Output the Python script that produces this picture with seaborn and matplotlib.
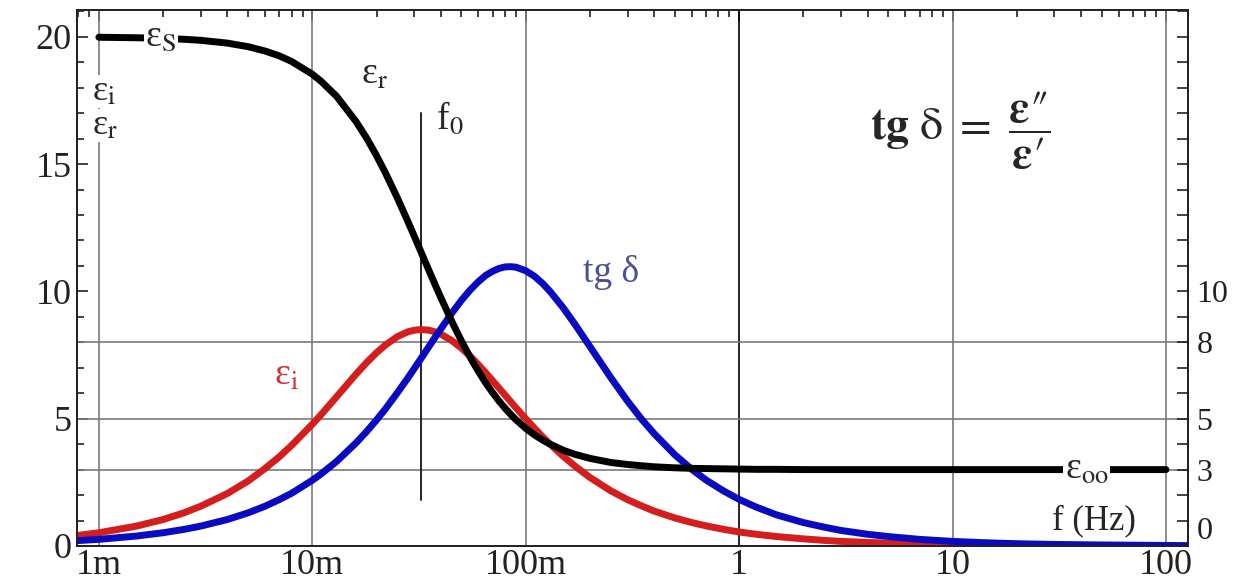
import matplotlib
matplotlib.use("Agg")
import matplotlib.pyplot as plt
import seaborn as sns
from matplotlib.ticker import LogLocator, NullFormatter, FixedLocator, FixedFormatter, MultipleLocator

# frequency (Hz) and the three curves
freq = [0.00079, 0.001, 0.0015, 0.002, 0.0025, 0.003, 0.004, 0.005, 0.006, 0.007, 0.008,
        0.01, 0.011, 0.013, 0.016, 0.018, 0.02, 0.022, 0.025, 0.028, 0.03, 0.032,
        0.035, 0.038, 0.04, 0.045, 0.05, 0.055, 0.06, 0.065, 0.07, 0.075, 0.08,
        0.085, 0.09, 0.1, 0.11, 0.12, 0.13, 0.15, 0.17, 0.2, 0.25, 0.3,
        0.35, 0.4, 0.5, 0.6, 0.7, 0.85, 1, 1.2, 1.5, 2, 2.5,
        3, 4, 5, 7, 10, 15, 20, 30, 50, 100, 127]
eps_r = [19.99, 19.98, 19.96, 19.94, 19.90, 19.86, 19.75, 19.61, 19.44, 19.25, 19.03,
         18.53, 18.25, 17.66, 16.68, 16.01, 15.33, 14.66, 13.68, 12.76, 12.18, 11.63,
         10.87, 10.18, 9.76, 8.83, 8.05, 7.40, 6.86, 6.40, 6.02, 5.69, 5.41,
         5.17, 4.96, 4.62, 4.36, 4.16, 4.00, 3.76, 3.60, 3.44, 3.28, 3.20,
         3.15, 3.11, 3.07, 3.05, 3.04, 3.03, 3.02, 3.01, 3.01, 3.00, 3.00,
         3.00, 3.00, 3.00, 3.00, 3.00, 3.00, 3.00, 3.00, 3.00, 3.00, 3.00]
eps_i = [0.41, 0.52, 0.78, 1.04, 1.30, 1.56, 2.06, 2.55, 3.04, 3.50, 3.95,
         4.78, 5.16, 5.86, 6.74, 7.21, 7.59, 7.89, 8.22, 8.41, 8.47, 8.50,
         8.48, 8.40, 8.32, 8.07, 7.77, 7.45, 7.12, 6.80, 6.49, 6.20, 5.93,
         5.67, 5.43, 5.00, 4.62, 4.29, 4.00, 3.52, 3.14, 2.69, 2.17, 1.82,
         1.57, 1.37, 1.10, 0.92, 0.79, 0.65, 0.55, 0.46, 0.37, 0.28, 0.22,
         0.18, 0.14, 0.11, 0.08, 0.06, 0.04, 0.03, 0.02, 0.01, 0.01, 0.00]
tg_d = [0.21, 0.26, 0.39, 0.52, 0.65, 0.78, 1.04, 1.30, 1.56, 1.82, 2.07,
        2.58, 2.83, 3.32, 4.04, 4.50, 4.95, 5.38, 6.01, 6.59, 6.96, 7.31,
        7.80, 8.25, 8.52, 9.14, 9.65, 10.06, 10.38, 10.63, 10.79, 10.90, 10.96,
        10.97, 10.95, 10.81, 10.59, 10.31, 10.00, 9.35, 8.71, 7.83, 6.62, 5.69,
        4.97, 4.41, 3.58, 3.01, 2.59, 2.15, 1.83, 1.53, 1.22, 0.92, 0.74,
        0.61, 0.46, 0.37, 0.26, 0.18, 0.12, 0.09, 0.06, 0.04, 0.02, 0.01]

x_ticks = [0.001, 0.01, 0.1, 1, 10, 100]
x_labels = ["1m", "10m", "100m", "1", "10", "100"]
y_ticks = [0, 5, 10, 15, 20]
right_ticks = [0, 3, 5, 8, 10]
h_grid = [3, 5, 8]
f0 = 0.0322

sns.set_style("white")
plt.rcParams["font.family"] = ["Liberation Serif", "DejaVu Serif"]
plt.rcParams["mathtext.fontset"] = "stix"

fig = plt.figure(figsize=(12.5, 5.85), dpi=100)
ax = fig.add_axes([0.0616, 0.0667, 0.8888, 0.9162])
ax.set_xscale("log")
ax.set_xlim(7.9e-4, 126.8)
ax.set_ylim(0, 21.05)

# grid
for xv in x_ticks:
    ax.axvline(xv, color="black" if xv == 1 else "#7a7a7a", lw=1.2, zorder=1)
for yv in h_grid:
    ax.axhline(yv, color="#7a7a7a", lw=1.2, zorder=1)
ax.plot([f0, f0], [1.8, 17.0], color="#222222", lw=1.4, zorder=2)

sns.lineplot(x=freq, y=eps_i, ax=ax, color="#d41e1e", lw=5, sort=False, zorder=3)
sns.lineplot(x=freq, y=tg_d, ax=ax, color="#0a0ac0", lw=5, sort=False, zorder=4)
sns.lineplot(x=freq[1:-1], y=eps_r[1:-1], ax=ax, color="black", lw=5, sort=False, zorder=5)

# labels on the curves
box = dict(facecolor="white", edgecolor="none", pad=0)
ax.text(1.95e-3, 20, r"ε$_{\rm S}$", fontsize=27, ha="center", va="center",
        bbox=dict(facecolor="white", edgecolor="none", pad=1), zorder=6)
ax.text(42.5, 3, r"ε$_{\rm oo}$", fontsize=27, ha="center", va="center",
        bbox=dict(facecolor="white", edgecolor="none", pad=1), zorder=6)
ax.text(0.93e-3, 17.85, r"ε$_{\rm i}$", fontsize=26, ha="left", va="center", bbox=box, zorder=6)
ax.text(0.93e-3, 16.5, r"ε$_{\rm r}$", fontsize=26, ha="left", va="center", bbox=box, zorder=6)
ax.text(0.0196, 18.5, r"ε$_{\rm r}$", fontsize=27, ha="center", va="center", zorder=6)
ax.text(0.038, 16.8, r"f$_{\rm 0}$", fontsize=27, ha="left", va="center", zorder=6)
ax.text(0.185, 10.75, "tg δ", fontsize=27, color="#4a5290", ha="left", va="center", zorder=6)
ax.text(0.0066, 6.7, r"ε$_{\rm i}$", fontsize=27, color="#cc3333", ha="left", va="center", zorder=6)
ax.text(46, 1.0, "f (Hz)", fontsize=25, ha="center", va="center", zorder=6)
eq = r"$\mathbf{tg}\ \mathrm{\delta}\ =\ \dfrac{\mathbf{\varepsilon}″}{\mathbf{\varepsilon}′}$"
ax.text(10.9, 16.3, eq, fontsize=33, ha="center", va="center", zorder=6)

# ticks
ax.xaxis.set_major_locator(FixedLocator(x_ticks))
ax.xaxis.set_major_formatter(FixedFormatter(x_labels))
ax.xaxis.set_minor_locator(LogLocator(base=10, subs=range(2, 10)))
ax.xaxis.set_minor_formatter(NullFormatter())
ax.set_yticks(y_ticks)
ax.yaxis.set_minor_locator(MultipleLocator(1))
ax.tick_params(which="both", direction="in", top=True, right=False, width=1.2, colors="#222222")
ax.tick_params(which="major", length=8, labelsize=26, pad=4)
ax.tick_params(which="minor", length=5)
ax.tick_params(axis="x", pad=2)

ax2 = ax.twinx()
ax2.set_ylim(ax.get_ylim())
ax2.set_yticks(right_ticks)
ax2.yaxis.set_minor_locator(MultipleLocator(1))
ax2.tick_params(which="both", direction="in", width=1.2, colors="#222222")
ax2.tick_params(which="major", length=8, labelsize=23, pad=6)
ax2.tick_params(which="minor", length=8)
ax2.get_yticklabels()[0].set_va("bottom")

for a in (ax, ax2):
    for s in a.spines.values():
        s.set_color("#222222")
        s.set_linewidth(1.3)

fig.savefig("out.png", dpi=100)
